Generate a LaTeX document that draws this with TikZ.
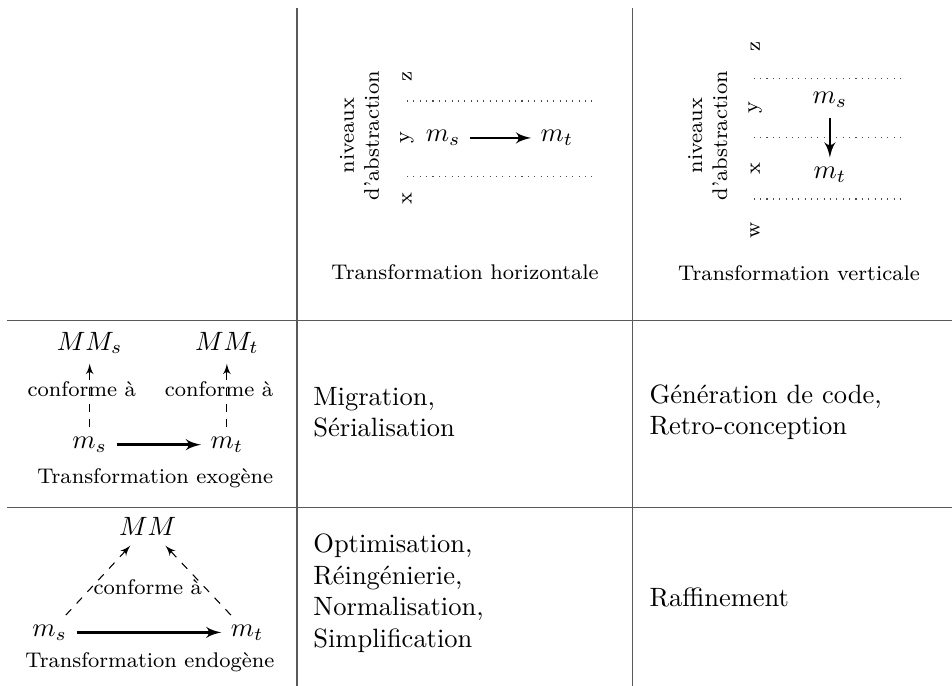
\documentclass[tikz,border=0pt]{standalone}
\usepackage {tikz}
\usetikzlibrary {positioning}
\usetikzlibrary{arrows}

\begin{document}
\begin{tikzpicture}[semithick ,
grid/.style = {black!65, line width=0.5pt},
level/.style = {dotted, thin, black!70},
lbl/.style = {font=\footnotesize},
axis/.style = {font=\footnotesize, rotate=90},
txt/.style = {anchor=west, align=left},
edge/.style = {->,> = latex', line width=1pt},
conf/.style = {->,> = latex', thin, dashed}]

\useasboundingbox (0,0) rectangle (12.63,-9.10);

% table
\draw[grid] (3.94,-0.11) -- (3.94,-9.10);
\draw[grid] (8.39,-0.11) -- (8.39,-9.10);
\draw[grid] (0.09,-4.25) -- (12.63,-4.25);
\draw[grid] (0.09,-6.73) -- (12.63,-6.73);

% horizontale
\node[axis, align=center] (niv_h) at (4.77,-1.80) {niveaux\\d'abstraction};
\node[axis] (z_h) at (5.40,-1.02) {z};
\node[axis] (y_h) at (5.40,-1.83) {y};
\node[axis] (x_h) at (5.40,-2.63) {x};
\draw[level] (5.40,-1.34) -- (7.87,-1.34);
\draw[level] (5.40,-2.34) -- (7.87,-2.34);

\node (ms_h) at (5.88,-1.83) {$m_s$};
\node (mt_h) at (7.39,-1.83) {$m_t$};
\draw[edge]  (ms_h) edge  (mt_h);

\node[lbl] (cap_h) at (6.17,-3.61) {Transformation horizontale};

% verticale
\node[axis, align=center] (niv_v) at (9.39,-1.80) {niveaux\\d'abstraction};
\node[axis] (z_v) at (10.02,-0.62) {z};
\node[axis] (y_v) at (10.02,-1.43) {y};
\node[axis] (x_v) at (10.02,-2.23) {x};
\node[axis] (w_v) at (10.02,-3.05) {w};
\draw[level] (10.00,-1.04) -- (11.98,-1.04);
\draw[level] (10.00,-1.83) -- (11.98,-1.83);
\draw[level] (10.00,-2.64) -- (11.98,-2.64);

\node (ms_v) at (11.01,-1.33) {$m_s$};
\node (mt_v) at (11.01,-2.32) {$m_t$};
\draw[edge]  (ms_v) edge  (mt_v);

\node[lbl] (cap_v) at (10.60,-3.62) {Transformation verticale};

% exogene
\node (MMs_x) at (1.19,-4.55) {$MM_s$};
\node (MMt_x) at (3.01,-4.55) {$MM_t$};
\node (ms_x) at (1.19,-5.90) {$m_s$};
\node (mt_x) at (3.01,-5.90) {$m_t$};

\draw[conf]  (ms_x) edge node[lbl, pos=0.6, xshift=-3pt] {conforme à} (MMs_x);
\draw[conf]  (mt_x) edge node[lbl, pos=0.6, xshift=-3pt] {conforme à} (MMt_x);
\draw[edge]  (ms_x) edge  (mt_x);

\node[lbl] (cap_x) at (2.06,-6.34) {Transformation exogène};

% endogene
\node (MM_n) at (1.96,-6.99) {$MM$};
\node (ms_n) at (0.66,-8.39) {$m_s$};
\node (mt_n) at (3.28,-8.39) {$m_t$};
\node[lbl] (conf_n) at (1.96,-7.79) {conforme à};

\draw[conf]  (ms_n) edge  (MM_n);
\draw[conf]  (mt_n) edge  (MM_n);
\draw[edge]  (ms_n) edge  (mt_n);

\node[lbl] (cap_n) at (1.99,-8.78) {Transformation endogène};

% exemples
\node[txt] (mig) at (4.03,-5.47) {Migration,\\Sérialisation};
\node[txt] (gen) at (8.49,-5.47) {Génération de code,\\Retro-conception};
\node[txt] (opt) at (4.03,-7.87) {Optimisation,\\Réingénierie,\\Normalisation,\\Simplification};
\node[txt] (raf) at (8.49,-7.93) {Raffinement};

\end{tikzpicture}
\end{document}
